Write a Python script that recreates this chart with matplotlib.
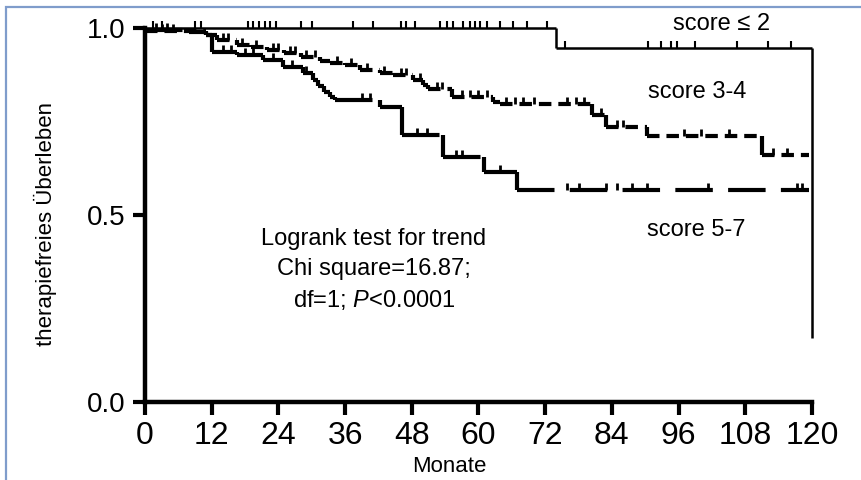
import numpy as np
import matplotlib
matplotlib.use("Agg")
import matplotlib.pyplot as plt
from matplotlib.collections import LineCollection
from matplotlib.path import Path
from matplotlib.patches import Rectangle

plt.rcParams['font.family'] = ['Liberation Sans', 'DejaVu Sans']
plt.rcParams['mathtext.fontset'] = 'custom'
plt.rcParams['mathtext.it'] = 'Liberation Sans:italic'
plt.rcParams['mathtext.rm'] = 'Liberation Sans'
plt.rcParams['lines.scale_dashes'] = False

# ---- data ----
x_ticks = [0, 12, 24, 36, 48, 60, 72, 84, 96, 108, 120]
y_ticks = [0.0, 0.5, 1.0]
y_ticklabels = ["0.0", "0.5", "1.0"]

# score <= 2
t_le2 = [0, 74, 120]
s_le2 = [1.0, 0.947, 0.17]
end_le2 = 120
cens_le2 = [1.5, 3, 9, 10, 18.5, 19.5, 20.5, 21.5, 22.5, 23.5, 28, 30, 37.5, 41,
            46, 47, 48.5, 53, 54.3, 55.4, 57.2, 58.5, 59.4, 60.3, 61.5, 63.8, 66.2,
            68.7, 72.3, 75.5, 90.5, 92.8, 94.6, 95.8, 99, 106.5, 112, 116.2]

# score 3-4
t_34 = [0, 11, 13, 16.5, 19, 22, 25, 28, 31.5, 33.3, 36, 38.7, 42.3, 44.6, 48.2,
        50, 51, 55.2, 62.6, 63.8, 80.4, 83, 90.3, 111]
s_34 = [0.993, 0.98, 0.968, 0.955, 0.95, 0.94, 0.933, 0.923, 0.912, 0.906, 0.90,
        0.888, 0.88, 0.874, 0.86, 0.848, 0.836, 0.816, 0.803, 0.797, 0.767, 0.735,
        0.71, 0.66]
end_34 = 119.5
cens_34 = [3, 5, 14, 15, 17.5, 20, 23, 24, 26, 27, 29, 30.5, 34.5, 37, 40, 43, 46,
           47, 49.5, 52.5, 53.5, 57, 58.5, 60, 61.5, 65, 66.5, 68, 70, 76, 77.5, 79,
           82, 85, 86, 97, 100, 105, 113, 115.5]

# score 5-7
t_57 = [0, 8, 11, 12, 16.5, 21.2, 24.8, 28.4, 30.2, 31.2, 32.2, 33.2, 34.2,
        42.3, 46.2, 53.6, 61, 67]
s_57 = [0.995, 0.99, 0.98, 0.937, 0.928, 0.914, 0.897, 0.879, 0.86, 0.845, 0.83,
        0.815, 0.807, 0.79, 0.714, 0.655, 0.615, 0.567]
end_57 = 119.5
cens_57 = [2, 4, 14, 15.5, 18, 19.5, 23, 26.5, 29, 39, 40.5, 49, 50.7, 56, 57,
           63.8, 76, 78, 83, 84.9, 87.6, 90.3, 101.3, 117.3, 118.2]

label_le2 = "score \u2264 2"
label_34 = "score 3-4"
label_57 = "score 5-7"
stats_text = "Logrank test for trend\nChi square=16.87;\ndf=1; $\\mathit{P}$<0.0001"
xlabel = "Monate"
ylabel = "therapiefreies \u00dcberleben"

# ---- figure ----
W, H = 862, 480
fig = plt.figure(figsize=(W / 100, H / 100), dpi=100)
ax = fig.add_axes([145 / W, 1 - 402 / H, (812 - 145) / W, 374 / H])

def step_curve(ax, t, s, end, lw, dashes):
    horiz = []
    for i in range(len(t)):
        t1 = t[i + 1] if i + 1 < len(t) else end
        if t1 > t[i]:
            horiz.append([(t[i], s[i]), (t1, s[i])])
    vert = [[(t[i], s[i - 1]), (t[i], s[i])] for i in range(1, len(t))]
    ls = 'solid' if dashes is None else (0, dashes)
    lc = LineCollection(horiz, colors='black', linewidths=lw, linestyles=ls,
                        capstyle='butt', clip_on=False, zorder=3)
    ax.add_collection(lc)
    lv = LineCollection(vert, colors='black', linewidths=lw, linestyles='solid',
                        capstyle='butt', clip_on=False, zorder=3)
    ax.add_collection(lv)

def surv_at(t, s, x):
    idx = np.searchsorted(np.asarray(t), x, side='right') - 1
    return np.asarray(s)[idx]

up_tick = Path([(0, 0), (0, 1)])

def censor(ax, t, s, c, ms, lw):
    c = np.asarray(c)
    ax.plot(c, surv_at(t, s, c), linestyle='none', marker=up_tick, markersize=ms,
            markeredgewidth=lw, color='black', clip_on=False, zorder=3)

step_curve(ax, t_le2, s_le2, end_le2, 1.8, None)
step_curve(ax, t_34, s_34, end_34, 3.0, (9, 5))
step_curve(ax, t_57, s_57, end_57, 3.0, (27, 11))
censor(ax, t_le2, s_le2, cens_le2, 10, 1.5)
censor(ax, t_34, s_34, cens_34, 10, 2.0)
censor(ax, t_57, s_57, cens_57, 10, 2.0)

ax.set_xlim(0, 120)
ax.set_ylim(0, 1.0)
for sp in ['top', 'right']:
    ax.spines[sp].set_visible(False)
for sp in ['left', 'bottom']:
    ax.spines[sp].set_linewidth(3.2)
    ax.spines[sp].set_capstyle('projecting')
ax.set_xticks(x_ticks)
ax.set_xticklabels([str(v) for v in x_ticks],
                   fontfamily=['Liberation Sans Narrow', 'Liberation Sans'], fontsize=23)
ax.set_yticks(y_ticks)
ax.set_yticklabels(y_ticklabels, fontsize=20)
ax.tick_params(axis='both', direction='out', length=9, width=3, color='black')
ax.tick_params(axis='x', pad=5)
ax.tick_params(axis='y', pad=5)

fig.text(449 / W, 1 - 466 / H, xlabel, ha='center', va='center', fontsize=16)
fig.text(45 / W, 1 - 224 / H, ylabel, ha='center', va='center', rotation=90,
         fontsize=16)

ax.text(722, 24, label_le2, transform=None, ha='center', va='center', fontsize=17)
ax.text(697, 92, label_34, transform=None, ha='center', va='center', fontsize=17)
ax.text(696, 230, label_57, transform=None, ha='center', va='center', fontsize=17)

# place texts via pixel coordinates (top-left origin)
for t in ax.texts:
    x, y = t.get_position()
    t.set_transform(fig.transFigure)
    t.set_position((x / W, 1 - y / H))

ax.text(374 / W, 1 - 270 / H, stats_text, transform=fig.transFigure, ha='center',
        va='center', fontsize=17, linespacing=1.45)

# light blue frame
fig.patches.append(Rectangle((6 / W, -0.1), 1.2, 0.1 + 1 - 7 / H,
                             transform=fig.transFigure, fill=False,
                             edgecolor='#7f9ccb', linewidth=1.6))

fig.savefig("out.png", dpi=100)
